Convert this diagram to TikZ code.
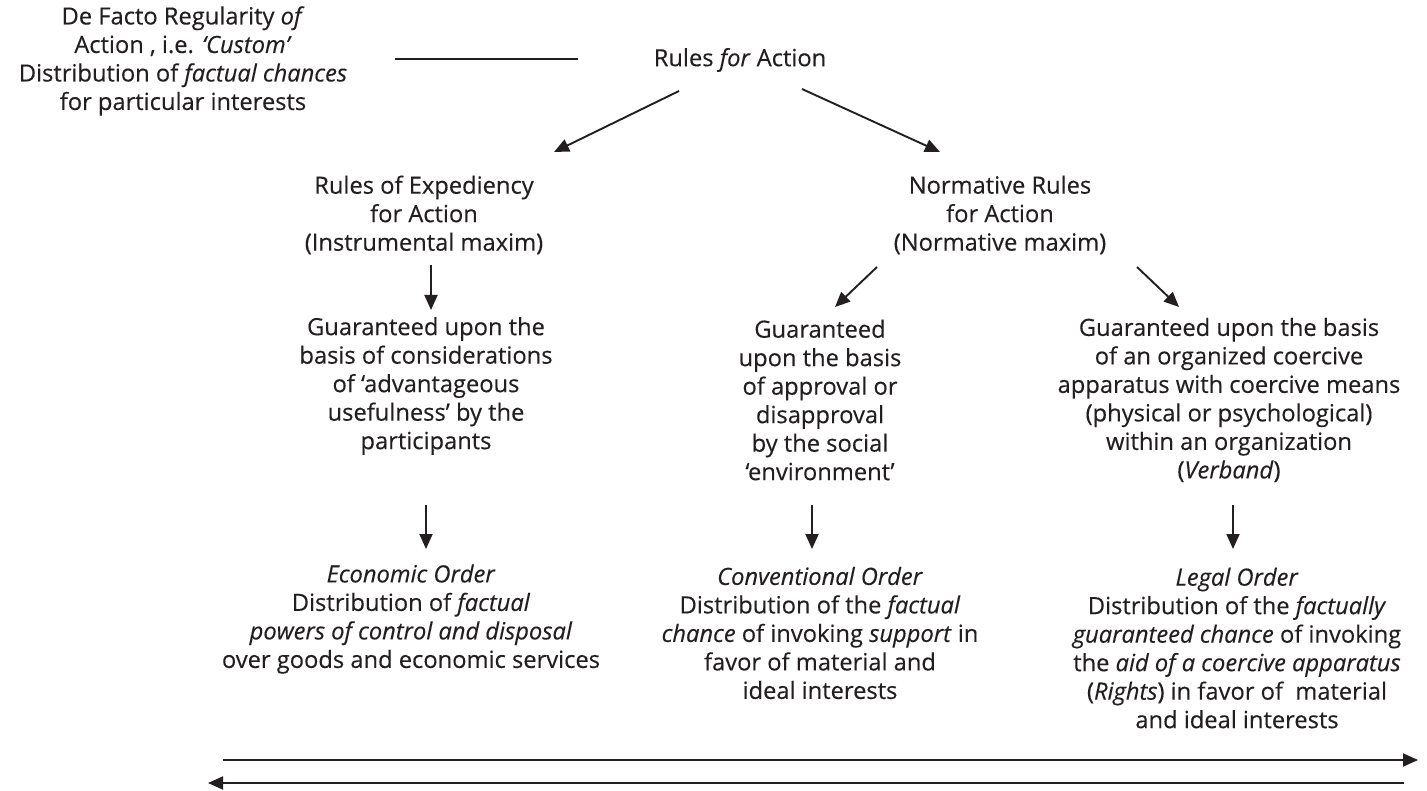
\documentclass[tikz,border=0pt]{standalone}
\usepackage{fontspec}
\setmainfont{Open Sans}
\newfontfamily\diagfont{Open Sans}[FakeBold=0.3]
\usetikzlibrary{arrows.meta}
\definecolor{ink}{HTML}{231F20}
\tikzset{
  txt/.style={align=center, inner sep=0pt, text=ink,
    font=\diagfont\fontsize{23.7}{28.5}\selectfont},
  link/.style={draw=ink, line width=1.9pt},
  arr/.style={link, -{Triangle[length=15pt,width=13pt]}}
}
\begin{document}
\begin{tikzpicture}[x=1pt,y=-1pt]
\useasboundingbox (0,0) rectangle (1427,791);

% top row
\node[txt] (custom) at (183,61) {De Facto Regularity \textit{of}\\Action , i.e. \textit{‘Custom’}\\Distribution of \textit{factual chances}\\for particular interests};
\node[txt] (rules) at (740,60) {Rules \textit{for} Action};

% second row
\node[txt] (exped) at (424,215) {Rules of Expediency\\for Action\\(Instrumental maxim)};
\node[txt] (norm) at (1000,215) {Normative Rules\\for Action\\(Normative maxim)};

% guarantees
\node[txt] (gL) at (426,386) {Guaranteed upon the\\basis of considerations\\of ‘advantageous\\usefulness’ by the\\participants};
\node[txt] (gM) at (820,400) {Guaranteed\\upon the basis\\of approval or\\disapproval\\by the social\\‘environment’};
\node[txt] (gR) at (1229,400) {Guaranteed upon the basis\\of an organized coercive\\apparatus with coercive means\\(physical or psychological)\\within an organization\\(\textit{Verband})};

% orders
\node[txt] (oL) at (411,619) {\textit{Economic Order}\\Distribution of \textit{factual}\\\textit{powers of control and disposal}\\over goods and economic services};
\node[txt] (oM) at (820,633) {\textit{Conventional Order}\\Distribution of the \textit{factual}\\\textit{chance} of invoking \textit{support} in\\favor of material and\\ideal interests};
\node[txt] (oR) at (1237,648) {\textit{Legal Order}\\Distribution of the \textit{factually}\\\textit{guaranteed chance} of invoking\\the \textit{aid of a coercive apparatus}\\(\textit{Rights}) in favor of\ \ material\\and ideal interests};

% connectors
\draw[link] ([shift={(212,-2)}]custom.center) -- ([shift={(-162,-1)}]rules.center);
\draw[arr] ([shift={(-61,31)}]rules.center) -- ([shift={(130,-63)}]exped.center);
\draw[arr] ([shift={(62,29)}]rules.center) -- ([shift={(-60,-63)}]norm.center);
\draw[arr] ([shift={(7,50)}]exped.center) -- ([shift={(5,-76)}]gL.center);
\draw[arr] ([shift={(-123,52)}]norm.center) -- ([shift={(15,-93)}]gM.center);
\draw[arr] ([shift={(137,52)}]norm.center) -- ([shift={(-50,-93)}]gR.center);
\draw[arr] ([shift={(0,119)}]gL.center) -- ([shift={(15,-70)}]oL.center);
\draw[arr] ([shift={(-8,105)}]gM.center) -- ([shift={(-8,-84)}]oM.center);
\draw[arr] ([shift={(4,105)}]gR.center) -- ([shift={(-4,-99)}]oR.center);

% two-way scale along the bottom
\coordinate (fwdL) at (223,760);
\coordinate (fwdR) at (1418,760);
\coordinate (backR) at (1404,783);
\coordinate (backL) at (208,783);
\draw[arr] (fwdL) -- (fwdR);
\draw[arr] (backR) -- (backL);
\end{tikzpicture}
\end{document}
